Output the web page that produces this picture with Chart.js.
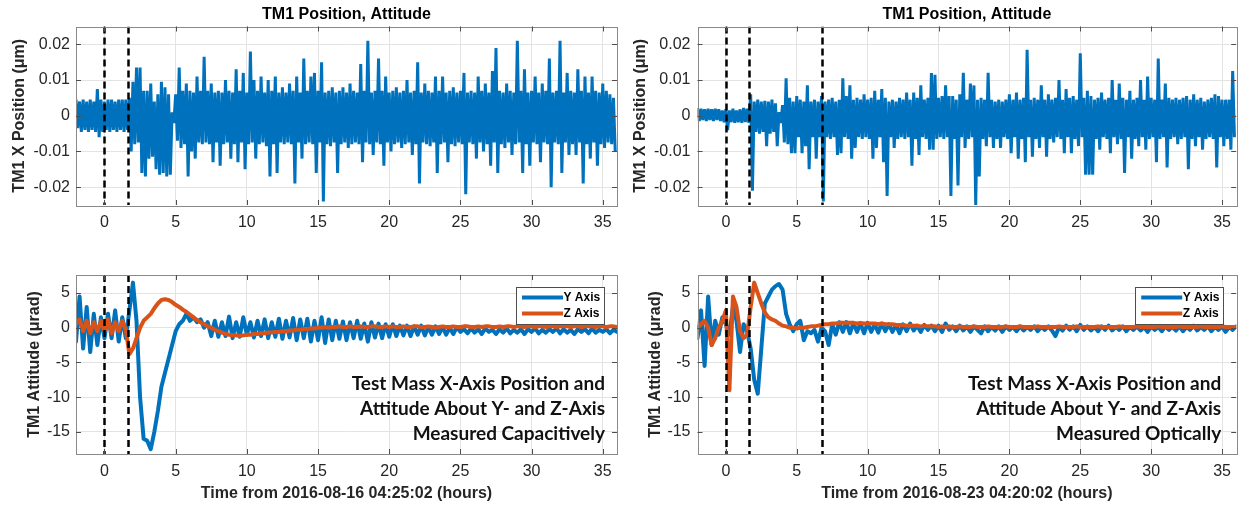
<!DOCTYPE html>
<html>
<head>
<meta charset="utf-8">
<title>TM1 Position, Attitude</title>
<script src="https://cdn.jsdelivr.net/npm/chart.js@4.4.1/dist/chart.umd.min.js"></script>
<style>
  body { margin: 0; background: #fff; }
  #wrap { position: relative; width: 1239px; height: 506px; overflow: hidden; }
  #wrap canvas { position: absolute; }
</style>
</head>
<body>
<div id="wrap">
  <canvas id="posL" width="620" height="232" style="left:0;top:0;width:620px;height:232px"></canvas>
  <canvas id="posR" width="619" height="232" style="left:620px;top:0;width:619px;height:232px"></canvas>
  <canvas id="attL" width="620" height="274" style="left:0;top:232px;width:620px;height:274px"></canvas>
  <canvas id="attR" width="619" height="274" style="left:620px;top:232px;width:619px;height:274px"></canvas>
</div>
<script>
// time grid: hours from the reference epoch, samples every 0.25 h starting at -2 h
const T0 = -2;
const STEP = 0.25;

const timeTicks = [0, 5, 10, 15, 20, 25, 30, 35];
const posTicks = [-0.02, -0.01, 0, 0.01, 0.02];
const attTicks = [-15, -10, -5, 0, 5];

// dashed markers (hours)
const eventsL = [0, 1.65];
const eventsR = [0, 1.65, 6.75];

// X position (um): upper / lower excursion inside each 0.25 h bin
const posHiL = [
  0.0045, 0.0040, 0.0045, 0.0040, 0.0045, 0.0040, 0.0075, 0.0045, 0.0040, 0.0045,
  0.0045, 0.0040, 0.0045, 0.0045, 0.0045, 0.0050, 0.0095, 0.0135, 0.0135, 0.0070,
  0.0070, 0.0090, 0.0040, 0.0060, 0.0095, 0.0080, 0.0060, 0.0010, 0.0060, 0.0135,
  0.0070, 0.0090, 0.0070, 0.0065, 0.0110, 0.0070, 0.0165, 0.0070, 0.0090, 0.0065,
  0.0070, 0.0065, 0.0100, 0.0070, 0.0065, 0.0130, 0.0070, 0.0120, 0.0065, 0.0180,
  0.0100, 0.0070, 0.0110, 0.0065, 0.0100, 0.0070, 0.0110, 0.0065, 0.0080, 0.0065,
  0.0090, 0.0070, 0.0110, 0.0065, 0.0160, 0.0070, 0.0110, 0.0120, 0.0070, 0.0150,
  0.0065, 0.0070, 0.0080, 0.0065, 0.0070, 0.0080, 0.0065, 0.0090, 0.0070, 0.0065,
  0.0145, 0.0070, 0.0210, 0.0065, 0.0070, 0.0160, 0.0070, 0.0110, 0.0065, 0.0070,
  0.0080, 0.0065, 0.0070, 0.0100, 0.0065, 0.0070, 0.0150, 0.0065, 0.0090, 0.0070,
  0.0065, 0.0110, 0.0070, 0.0110, 0.0065, 0.0070, 0.0080, 0.0065, 0.0070, 0.0120,
  0.0065, 0.0070, 0.0065, 0.0110, 0.0070, 0.0090, 0.0065, 0.0125, 0.0190, 0.0070,
  0.0065, 0.0090, 0.0070, 0.0065, 0.0210, 0.0070, 0.0130, 0.0065, 0.0070, 0.0110,
  0.0065, 0.0090, 0.0070, 0.0160, 0.0065, 0.0070, 0.0210, 0.0065, 0.0120, 0.0070,
  0.0065, 0.0130, 0.0070, 0.0110, 0.0065, 0.0110, 0.0070, 0.0065, 0.0090, 0.0070,
  0.0060, 0.0050
];
const posLoL = [
  -0.0035, -0.0045, -0.0040, -0.0045, -0.0040, -0.0045, -0.0060, -0.0045, -0.0040, -0.0045,
  -0.0040, -0.0045, -0.0040, -0.0045, -0.0040, -0.0100, -0.0080, -0.0075, -0.0160, -0.0170,
  -0.0120, -0.0115, -0.0150, -0.0165, -0.0160, -0.0170, -0.0165, -0.0020, -0.0070, -0.0090,
  -0.0080, -0.0170, -0.0100, -0.0120, -0.0075, -0.0080, -0.0075, -0.0080, -0.0130, -0.0075,
  -0.0140, -0.0080, -0.0075, -0.0120, -0.0080, -0.0130, -0.0075, -0.0150, -0.0080, -0.0075,
  -0.0120, -0.0080, -0.0075, -0.0085, -0.0170, -0.0080, -0.0160, -0.0075, -0.0080, -0.0075,
  -0.0080, -0.0190, -0.0075, -0.0120, -0.0080, -0.0075, -0.0080, -0.0160, -0.0075, -0.0240,
  -0.0080, -0.0085, -0.0075, -0.0160, -0.0080, -0.0075, -0.0090, -0.0080, -0.0075, -0.0080,
  -0.0130, -0.0075, -0.0080, -0.0110, -0.0075, -0.0080, -0.0140, -0.0075, -0.0100, -0.0080,
  -0.0075, -0.0090, -0.0080, -0.0075, -0.0110, -0.0080, -0.0190, -0.0075, -0.0080, -0.0085,
  -0.0075, -0.0160, -0.0080, -0.0075, -0.0130, -0.0080, -0.0085, -0.0075, -0.0080, -0.0220,
  -0.0075, -0.0080, -0.0120, -0.0075, -0.0100, -0.0080, -0.0140, -0.0075, -0.0160, -0.0080,
  -0.0090, -0.0075, -0.0110, -0.0080, -0.0075, -0.0160, -0.0080, -0.0140, -0.0075, -0.0080,
  -0.0130, -0.0075, -0.0080, -0.0200, -0.0075, -0.0080, -0.0160, -0.0075, -0.0110, -0.0080,
  -0.0110, -0.0075, -0.0190, -0.0080, -0.0120, -0.0075, -0.0140, -0.0080, -0.0090, -0.0075,
  -0.0080, -0.0100
];
const posHiR = [
  0.0022, 0.0020, 0.0018, 0.0020, 0.0018, 0.0020, 0.0018, 0.0015, 0.0018, 0.0015,
  0.0020, 0.0015, 0.0018, 0.0022, 0.0020, 0.0060, 0.0040, 0.0045, 0.0040, 0.0042,
  0.0040, 0.0045, 0.0035, 0.0010, 0.0030, 0.0105, 0.0050, 0.0040, 0.0055, 0.0045,
  0.0040, 0.0085, 0.0040, 0.0045, 0.0040, 0.0055, 0.0040, 0.0045, 0.0050, 0.0040,
  0.0045, 0.0105, 0.0055, 0.0085, 0.0045, 0.0050, 0.0045, 0.0060, 0.0045, 0.0050,
  0.0070, 0.0045, 0.0075, 0.0050, 0.0040, 0.0045, 0.0040, 0.0050, 0.0045, 0.0065,
  0.0045, 0.0065, 0.0050, 0.0085, 0.0045, 0.0050, 0.0120, 0.0115, 0.0050, 0.0055,
  0.0085, 0.0055, 0.0055, 0.0045, 0.0060, 0.0120, 0.0045, 0.0090, 0.0085, 0.0045,
  0.0050, 0.0045, 0.0120, 0.0045, 0.0040, 0.0045, 0.0040, 0.0045, 0.0060, 0.0045,
  0.0065, 0.0045, 0.0050, 0.0185, 0.0045, 0.0050, 0.0045, 0.0085, 0.0045, 0.0060,
  0.0045, 0.0050, 0.0100, 0.0045, 0.0075, 0.0050, 0.0055, 0.0045, 0.0175, 0.0050,
  0.0070, 0.0055, 0.0045, 0.0050, 0.0065, 0.0045, 0.0050, 0.0100, 0.0045, 0.0090,
  0.0050, 0.0045, 0.0070, 0.0045, 0.0050, 0.0100, 0.0045, 0.0110, 0.0050, 0.0045,
  0.0160, 0.0045, 0.0090, 0.0050, 0.0045, 0.0050, 0.0045, 0.0050, 0.0055, 0.0045,
  0.0060, 0.0045, 0.0050, 0.0040, 0.0045, 0.0050, 0.0060, 0.0055, 0.0045, 0.0045,
  0.0045, 0.0125
];
const posLoR = [
  -0.0015, -0.0012, -0.0015, -0.0012, -0.0015, -0.0012, -0.0015, -0.0018, -0.0040, -0.0018,
  -0.0020, -0.0018, -0.0020, -0.0018, -0.0020, -0.0210, -0.0045, -0.0050, -0.0045, -0.0085,
  -0.0050, -0.0045, -0.0085, -0.0020, -0.0075, -0.0080, -0.0105, -0.0105, -0.0060, -0.0105,
  -0.0085, -0.0150, -0.0060, -0.0120, -0.0060, -0.0240, -0.0060, -0.0065, -0.0060, -0.0110,
  -0.0105, -0.0060, -0.0065, -0.0120, -0.0090, -0.0060, -0.0065, -0.0060, -0.0065, -0.0120,
  -0.0090, -0.0060, -0.0130, -0.0225, -0.0060, -0.0090, -0.0065, -0.0060, -0.0065, -0.0060,
  -0.0140, -0.0065, -0.0110, -0.0060, -0.0065, -0.0095, -0.0095, -0.0065, -0.0060, -0.0065,
  -0.0060, -0.0225, -0.0065, -0.0195, -0.0060, -0.0090, -0.0065, -0.0060, -0.0250, -0.0170,
  -0.0065, -0.0085, -0.0060, -0.0090, -0.0065, -0.0090, -0.0060, -0.0065, -0.0105, -0.0060,
  -0.0120, -0.0065, -0.0130, -0.0060, -0.0115, -0.0065, -0.0090, -0.0060, -0.0115, -0.0065,
  -0.0075, -0.0060, -0.0065, -0.0105, -0.0060, -0.0105, -0.0065, -0.0085, -0.0060, -0.0165,
  -0.0165, -0.0165, -0.0065, -0.0095, -0.0060, -0.0065, -0.0105, -0.0060, -0.0080, -0.0065,
  -0.0160, -0.0060, -0.0120, -0.0065, -0.0085, -0.0060, -0.0095, -0.0065, -0.0060, -0.0130,
  -0.0065, -0.0060, -0.0145, -0.0065, -0.0060, -0.0080, -0.0065, -0.0060, -0.0150, -0.0065,
  -0.0085, -0.0060, -0.0095, -0.0065, -0.0060, -0.0065, -0.0145, -0.0060, -0.0085, -0.0065,
  -0.0095, -0.0060
];

// attitude (urad), one sample every 0.25 h
const attYL = [
  -2, 4.5, -3, 3, -3.5, 2, -2.5, 1.5, -1.5, 2,
  -1.5, 2.5, -2, 1.5, -1.5, 2.5, 6.5, 1, -10, -16,
  -16.3, -17.5, -15, -12, -8.5, -6.5, -4.5, -2.5, -0.5, 0.5,
  1, 2, 1, 1.5, 0.8, 1.2, 0, 0.8, -1.2, 1,
  -1.3, 0.8, -1.2, 1.6, -1.5, 0.8, -1.3, 1.5, -1.0, 0.8,
  -1.4, 1.0, -1.2, 1.2, -1.5, 0.8, -1.3, 1.3, -1.6, 1.0,
  -1.4, 1.4, -1.8, 1.2, -1.5, 1.3, -2.0, 1.0, -1.8, 1.5,
  -2.2, 1.2, -1.8, 1.0, -1.6, 0.9, -1.8, 0.8, -1.5, 1.0,
  -1.6, 0.6, -2.0, 0.8, -1.4, 0.6, -1.5, 0.5, -1.3, 0.5,
  -1.2, 0.3, -1.1, 0.3, -1.2, 0.2, -1.0, 0.3, -1.1, 0.1,
  -1.0, 0.2, -0.9, 0.1, -1.0, 0.0, -0.9, 0.1, -0.6, -0.2,
  -0.8, -0.1, -0.7, -0.2, -0.9, -0.1, -0.6, -0.3, -0.9, -0.2,
  -0.7, -0.1, -0.8, -0.3, -0.7, -0.2, -0.9, -0.2, -0.6, -0.1,
  -0.8, -0.3, -0.7, -0.2, -0.6, -0.1, -0.8, -0.2, -0.7, -0.3,
  -0.9, -0.2, -0.6, -0.2, -0.8, -0.1, -0.7, -0.3, -0.6, -0.2,
  -0.8, -0.3, -0.6
];
const attZL = [
  0.5, 1.2, -0.5, 1.0, -0.8, 0.8, -0.5, 1.0, -0.5, 1.2,
  -0.8, 0.8, -0.5, 1.0, -0.3, -3.8, -3.0, -1.5, 0.0, 1.0,
  1.5, 2.0, 2.8, 3.5, 4.0, 4.1, 4.0, 3.7, 3.3, 3.0,
  2.6, 2.3, 1.9, 1.5, 1.1, 0.8, 0.5, 0.2, 0.0, -0.3,
  -0.5, -0.7, -0.9, -1.0, -1.1, -1.1, -1.2, -1.1, -1.0, -1.0,
  -0.9, -0.9, -0.8, -0.8, -0.7, -0.7, -0.6, -0.6, -0.5, -0.5,
  -0.4, -0.4, -0.3, -0.3, -0.2, -0.2, -0.1, -0.1, 0.0, 0.0,
  0.1, 0.0, 0.1, 0.1, 0.2, 0.1, 0.1, 0.2, 0.1, 0.1,
  0.2, 0.1, 0.1, 0.2, 0.2, 0.1, 0.1, 0.2, 0.1, 0.2,
  0.1, 0.1, 0.2, 0.1, 0.1, 0.2, 0.2, 0.1, 0.1, 0.2,
  0.1, 0.0, 0.1, 0.2, 0.1, 0.1, 0.2, 0.1, 0.1, 0.2,
  0.2, 0.1, 0.1, 0.2, 0.1, 0.2, 0.2, 0.1, 0.1, 0.2,
  0.1, 0.2, 0.2, 0.1, 0.2, 0.2, 0.1, 0.2, 0.2, 0.1,
  0.2, 0.2, 0.1, 0.2, 0.2, 0.1, 0.2, 0.2, 0.2, 0.1,
  0.2, 0.2, 0.1, 0.2, 0.2, 0.2, 0.1, 0.2, 0.2, 0.1,
  0.2, 0.2, 0.1
];
const attYR = [
  -1.5, 2.5, -5.5, 4.5, -2.5, 1.0, -1.0, 1.5, 0.5, -1.0,
  3.0, 1.0, -3.5, 0.5, -0.5, -3.0, -7.5, -9.5, -3.0, 3.5,
  4.5, 5.5, 6.0, 6.3, 5.5, 2.0, 0.5, -0.5, 0.5, 1.0,
  -1.8, -0.5, -0.8, -0.3, -2.0, 0.0, -0.5, -2.5, 0.5, -1.0,
  0.8, -0.6, 0.8, -0.8, 0.7, -0.6, 0.6, -0.8, 0.7, -0.6,
  0.5, -0.7, 0.6, -0.5, 0.5, -0.6, 0.4, -0.8, 0.5, -0.5,
  0.6, -0.4, 0.3, -0.6, 0.4, -0.3, 0.3, -0.5, 0.3, -0.6,
  0.6, -0.3, 0.2, -0.5, 0.3, -0.4, 0.2, -0.6, 0.2, -0.3,
  -0.8, 0.2, -0.5, 0.1, -0.4, 0.2, -0.6, 0.2, -0.3, 0.1,
  -0.5, 0.2, -0.4, 0.1, -0.3, 0.2, -0.5, 0.1, -0.3, 0.2,
  -0.4, -1.2, 0.1, -0.4, 0.3, -0.3, 0.2, -0.5, 0.4, -0.3,
  0.2, -0.4, 0.1, -0.5, 0.2, -0.3, 0.3, -0.4, 0.1, -0.3,
  0.2, -0.5, 0.1, -0.3, 0.2, -0.4, 0.1, -0.6, 0.2, -0.3,
  0.1, -0.5, 0.2, -0.3, 0.1, -0.4, 0.2, -0.5, 0.1, -0.3,
  0.3, -0.4, 0.1, -0.3, 0.2, -0.5, 0.1, -0.3, 0.2, -0.6,
  0.1, -0.3, 0.2
];
const attZR = [
  0.0, 0.5, 1.0, 0.0, -2.5, -1.5, 0.0, 1.0, 2.5, -9.0,
  4.5, 3.0, -0.5, -1.5, -1.0, 3.0, 6.5, 5.0, 3.5, 2.2,
  1.5, 1.2, 1.0, 0.6, 0.3, 0.2, 0.0, 0.0, -0.1, 0.0,
  0.0, 0.1, 0.2, 0.2, 0.3, 0.4, 0.5, 0.5, 0.6, 0.6,
  0.7, 0.7, 0.7, 0.7, 0.7, 0.6, 0.7, 0.6, 0.6, 0.6,
  0.6, 0.5, 0.6, 0.5, 0.5, 0.5, 0.4, 0.4, 0.4, 0.3,
  0.3, 0.3, 0.3, 0.2, 0.3, 0.2, 0.2, 0.2, 0.1, 0.2,
  0.1, 0.2, 0.1, 0.1, 0.2, 0.1, 0.1, 0.1, 0.2, 0.1,
  0.1, 0.1, 0.2, 0.1, 0.1, 0.1, 0.1, 0.2, 0.1, 0.1,
  0.1, 0.2, 0.1, 0.1, 0.1, 0.1, 0.2, 0.1, 0.1, 0.1,
  0.1, 0.1, 0.2, 0.1, 0.1, 0.1, 0.1, 0.2, 0.1, 0.1,
  0.1, 0.1, 0.1, 0.2, 0.1, 0.1, 0.1, 0.1, 0.1, 0.2,
  0.1, 0.1, 0.1, 0.1, 0.2, 0.1, 0.1, 0.1, 0.1, 0.1,
  0.2, 0.1, 0.1, 0.1, 0.1, 0.1, 0.2, 0.1, 0.1, 0.1,
  0.1, 0.1, 0.2, 0.1, 0.1, 0.1, 0.1, 0.1, 0.2, 0.1,
  0.1, 0.1, 0.1
];

const noteL = ['Test Mass X-Axis Position and', 'Attitude About Y- and Z-Axis', 'Measured Capacitively'];
const noteR = ['Test Mass X-Axis Position and', 'Attitude About Y- and Z-Axis', 'Measured Optically'];

const BLUE = '#0072BD';
const ORANGE = '#D95319';
const INK = '#262626';
const SANS = '"Liberation Sans", Arial, Helvetica, sans-serif';

Chart.defaults.font.family = SANS;
Chart.defaults.color = INK;

// each bin becomes an up/down stroke so the dense record renders as a band
function zigzag(hi, lo) {
  const pts = [];
  hi.forEach((h, i) => {
    const t = T0 + i * STEP;
    pts.push({ x: t, y: h }, { x: t + STEP / 2, y: lo[i] });
  });
  return pts;
}

function series(vals) {
  return vals.map((v, i) => ({ x: T0 + i * STEP, y: v }));
}

// MATLAB-like axes dressing: event markers, box, inward ticks, title, legend, note
const axesFrame = {
  id: 'axesFrame',
  afterDatasetsDraw(chart, args, opts) {
    const { ctx, chartArea: a, scales: { x, y } } = chart;

    ctx.save();
    ctx.beginPath();
    ctx.rect(a.left, a.top, a.right - a.left, a.bottom - a.top);
    ctx.clip();
    ctx.strokeStyle = '#000';
    ctx.lineWidth = 2.5;
    ctx.setLineDash([7, 4]);
    (opts.events || []).forEach(t => {
      const px = Math.round(x.getPixelForValue(t)) + 0.5;
      ctx.beginPath();
      ctx.moveTo(px, a.top);
      ctx.lineTo(px, a.bottom);
      ctx.stroke();
    });
    ctx.restore();

    ctx.save();
    ctx.strokeStyle = '#8a8a8a';
    ctx.lineWidth = 1;
    ctx.strokeRect(Math.round(a.left) + 0.5, Math.round(a.top) + 0.5,
      Math.round(a.right - a.left), Math.round(a.bottom - a.top));
    ctx.strokeStyle = '#4d4d4d';
    ctx.beginPath();
    x.ticks.forEach(t => {
      const px = Math.round(x.getPixelForValue(t.value)) + 0.5;
      ctx.moveTo(px, a.bottom); ctx.lineTo(px, a.bottom - 5);
      ctx.moveTo(px, a.top); ctx.lineTo(px, a.top + 5);
    });
    y.ticks.forEach(t => {
      const py = Math.round(y.getPixelForValue(t.value)) + 0.5;
      ctx.moveTo(a.left, py); ctx.lineTo(a.left + 5, py);
      ctx.moveTo(a.right, py); ctx.lineTo(a.right - 5, py);
    });
    ctx.stroke();
    ctx.restore();

    if (opts.title) {
      ctx.save();
      ctx.font = 'bold 16px ' + SANS;
      ctx.fillStyle = '#000';
      ctx.textAlign = 'center';
      ctx.textBaseline = 'middle';
      ctx.fillText(opts.title, (a.left + a.right) / 2, a.top - 12);
      ctx.restore();
    }

    if (opts.legend) {
      const sets = chart.data.datasets.filter(d => d.label);
      const w = 88, h = 37;
      const bx = a.right - 13 - w, by = a.top + 11.5;
      ctx.save();
      ctx.fillStyle = '#fff';
      ctx.fillRect(bx, by, w, h);
      ctx.strokeStyle = '#4d4d4d';
      ctx.lineWidth = 1;
      ctx.strokeRect(Math.round(bx) + 0.5, Math.round(by) + 0.5, w, h);
      ctx.font = 'bold 12px ' + SANS;
      ctx.textBaseline = 'middle';
      ctx.textAlign = 'left';
      sets.forEach((d, i) => {
        const ly = by + 11 + i * 16;
        ctx.strokeStyle = d.borderColor;
        ctx.lineWidth = 4;
        ctx.beginPath();
        ctx.moveTo(bx + 6, ly);
        ctx.lineTo(bx + 47, ly);
        ctx.stroke();
        ctx.fillStyle = '#000';
        ctx.fillText(d.label, bx + 47.5, ly + 0.5);
      });
      ctx.restore();
    }

    if (opts.note) {
      ctx.save();
      ctx.font = 'bold 19px Lato, "Open Sans", sans-serif';
      ctx.fillStyle = '#111';
      ctx.textAlign = 'right';
      ctx.textBaseline = 'alphabetic';
      opts.note.forEach((line, i) => {
        ctx.fillText(line, a.right - opts.noteRight, a.top + 114.5 + i * 25);
      });
      ctx.restore();
    }
  }
};

function makeChart(id, cfg) {
  return new Chart(document.getElementById(id), {
    type: 'line',
    data: { datasets: cfg.datasets },
    plugins: [axesFrame],
    options: {
      responsive: false,
      animation: false,
      events: [],
      layout: { padding: { top: cfg.padTop, right: cfg.padRight, left: 0, bottom: 0 } },
      elements: { point: { radius: 0 }, line: { tension: 0 } },
      plugins: {
        legend: { display: false },
        tooltip: { enabled: false },
        axesFrame: cfg.frame
      },
      scales: {
        x: {
          type: 'linear',
          min: -2,
          max: 36,
          afterBuildTicks: s => { s.ticks = timeTicks.map(v => ({ value: v })); },
          afterFit: s => { s.height = cfg.xHeight; },
          grid: { color: '#e3e3e3', drawTicks: false },
          border: { display: false },
          ticks: { font: { size: 16 }, color: INK, padding: 8, maxRotation: 0, autoSkip: false,
            callback: v => String(v) },
          title: {
            display: !!cfg.xTitle,
            text: cfg.xTitle || '',
            font: { size: 16, weight: 'bold' },
            color: INK,
            padding: { top: 0, bottom: 2.4 }
          }
        },
        y: {
          type: 'linear',
          min: cfg.yMin,
          max: cfg.yMax,
          afterBuildTicks: s => { s.ticks = cfg.yTicks.map(v => ({ value: v })); },
          afterFit: s => { s.width = cfg.yWidth; },
          grid: { color: '#e3e3e3', drawTicks: false },
          border: { display: false },
          ticks: { font: { size: 16 }, color: INK, padding: cfg.yTickPad, callback: v => String(v) },
          title: {
            display: true,
            text: cfg.yTitle,
            font: { size: 16, weight: 'bold' },
            color: INK,
            padding: { top: cfg.yTitlePad, bottom: 0 }
          }
        }
      }
    }
  });
}

function positionSet(hi, lo) {
  return [{
    data: zigzag(hi, lo),
    borderColor: BLUE,
    borderWidth: 3,
    borderJoinStyle: 'bevel',
    clip: 0
  }];
}

function attitudeSets(yv, zv) {
  return [
    { label: 'Y Axis', data: series(yv), borderColor: BLUE, borderWidth: 4,
      borderJoinStyle: 'round', borderCapStyle: 'round', order: 2, clip: 0 },
    { label: 'Z Axis', data: series(zv), borderColor: ORANGE, borderWidth: 4,
      borderJoinStyle: 'round', borderCapStyle: 'round', order: 1, clip: 0 }
  ];
}

makeChart('posL', {
  datasets: positionSet(posHiL, posLoL),
  yMin: -0.025, yMax: 0.025, yTicks: posTicks,
  yTitle: 'TM1 X Position (\u03bcm)', yTitlePad: 10.4, yWidth: 76, yTickPad: 6,
  xHeight: 27, padTop: 26.5, padRight: 3,
  frame: { events: eventsL, title: 'TM1 Position, Attitude' }
});

makeChart('posR', {
  datasets: positionSet(posHiR, posLoR),
  yMin: -0.025, yMax: 0.025, yTicks: posTicks,
  yTitle: 'TM1 X Position (\u03bcm)', yTitlePad: 10.9, yWidth: 77.5, yTickPad: 7,
  xHeight: 27, padTop: 26.5, padRight: 2.3,
  frame: { events: eventsR, title: 'TM1 Position, Attitude' }
});

makeChart('attL', {
  datasets: attitudeSets(attYL, attZL),
  yMin: -18.2, yMax: 7.6, yTicks: attTicks,
  yTitle: 'TM1 Attitude (\u03bcrad)', yTitlePad: 25.4, yWidth: 76, yTickPad: 6,
  xHeight: 52, padTop: 43, padRight: 3,
  xTitle: 'Time from 2016-08-16 04:25:02 (hours)',
  frame: { events: eventsL, legend: true, note: noteL, noteRight: 12 }
});

makeChart('attR', {
  datasets: attitudeSets(attYR, attZR),
  yMin: -18.2, yMax: 7.6, yTicks: attTicks,
  yTitle: 'TM1 Attitude (\u03bcrad)', yTitlePad: 25.9, yWidth: 77.5, yTickPad: 7,
  xHeight: 52, padTop: 43, padRight: 2.3,
  xTitle: 'Time from 2016-08-23 04:20:02 (hours)',
  frame: { events: eventsR, legend: true, note: noteR, noteRight: 15 }
});
</script>
</body>
</html>
